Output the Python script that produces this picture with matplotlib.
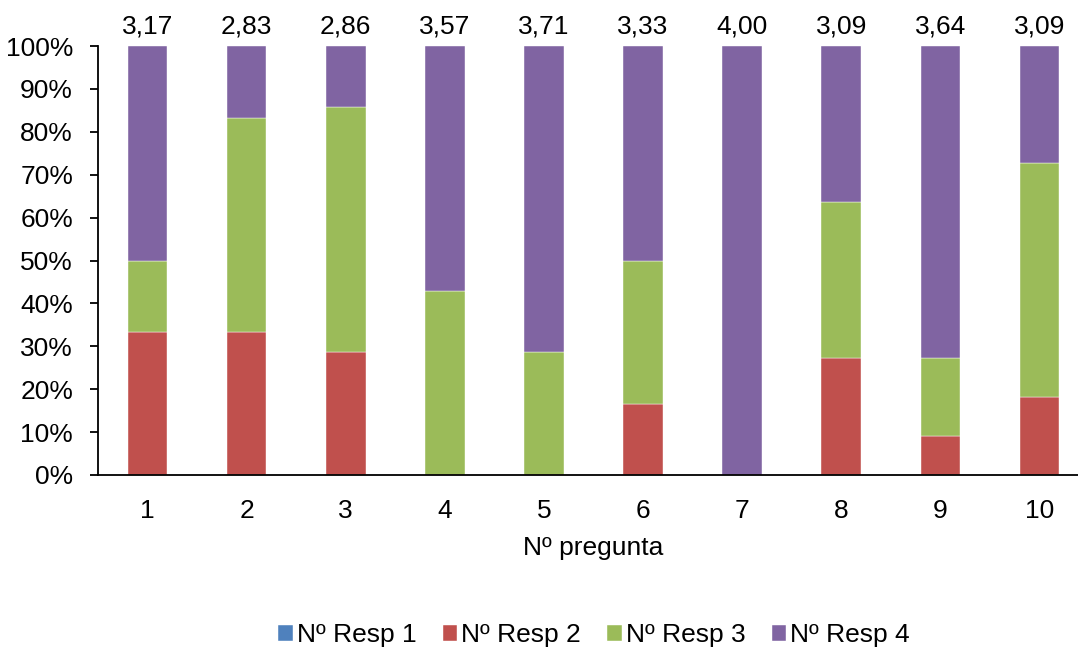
import matplotlib
matplotlib.use("Agg")
import matplotlib.pyplot as plt
import numpy as np
from matplotlib.ticker import PercentFormatter

plt.rcParams['font.family'] = ['Liberation Sans', 'DejaVu Sans']

preguntas = ['1', '2', '3', '4', '5', '6', '7', '8', '9', '10']
resp1 = [0, 0, 0, 0, 0, 0, 0, 0, 0, 0]
resp2 = [2, 2, 2, 0, 0, 1, 0, 3, 1, 2]
resp3 = [1, 3, 4, 3, 2, 2, 0, 4, 2, 6]
resp4 = [3, 1, 1, 4, 5, 3, 6, 4, 8, 3]
series_names = ['Nº Resp 1', 'Nº Resp 2', 'Nº Resp 3', 'Nº Resp 4']
colors = ['#4F81BD', '#C0504D', '#9BBB59', '#8064A2']

counts = np.array([resp1, resp2, resp3, resp4], dtype=float)
totals = counts.sum(axis=0)
fracs = counts / totals
means = (counts * np.arange(1, 5)[:, None]).sum(axis=0) / totals

FS = 19

fig = plt.figure(figsize=(10.78, 6.48), dpi=100)
ax = fig.add_axes([98 / 1078, 1 - 475 / 648, 991 / 1078, (475 - 46) / 648])

x = np.arange(len(preguntas))
bottom = np.zeros(len(preguntas))
for name, f, c in zip(series_names, fracs, colors):
    ax.bar(x, f, bottom=bottom, width=0.4, color=c, label=name,
           edgecolor='white', linewidth=0.3)
    bottom += f

for xi, m in zip(x, means):
    ax.text(xi, 1.018, f"{m:.2f}".replace('.', ','), ha='center', va='bottom',
            fontsize=FS)

ax.set_xlim(-0.5, len(preguntas) - 0.5)
ax.set_ylim(0, 1)
ax.set_yticks(np.linspace(0, 1, 11))
ax.yaxis.set_major_formatter(PercentFormatter(1.0, decimals=0))
ax.set_xticks(x)
ax.set_xticklabels(preguntas)
ax.tick_params(axis='y', labelsize=FS, length=6, width=1.3, direction='out', pad=12)
ax.tick_params(axis='x', labelsize=FS, length=0, pad=17)
ax.set_xlabel('Nº pregunta', fontsize=FS, labelpad=10)

for s in ['top', 'right']:
    ax.spines[s].set_visible(False)
for s in ['left', 'bottom']:
    ax.spines[s].set_linewidth(1.3)

handles, labels = ax.get_legend_handles_labels()
fig.legend(handles, labels, loc='center', bbox_to_anchor=(0.551, 1 - 635 / 648),
           ncol=4, frameon=False, fontsize=FS, handlelength=0.55, handleheight=0.55,
           handletextpad=0.15, columnspacing=1.0, borderaxespad=0)

fig.savefig('out.png', dpi=100)
